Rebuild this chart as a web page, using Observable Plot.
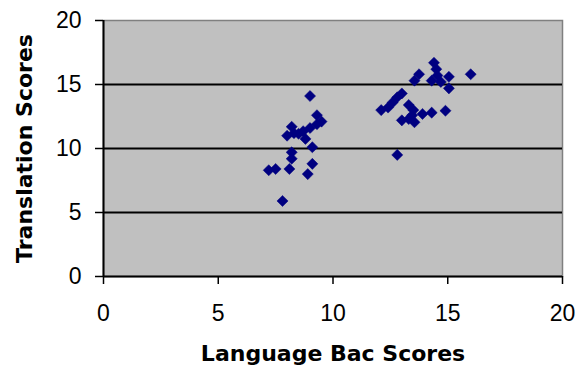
<!DOCTYPE html>
<html>
<head>
<meta charset="utf-8">
<script src="https://cdn.jsdelivr.net/npm/d3@7"></script>
<script src="https://cdn.jsdelivr.net/npm/@observablehq/plot@0.6"></script>
<style>
  html, body { margin: 0; padding: 0; background: #fff; }
</style>
</head>
<body>
<div id="chart"></div>
<script>
// Language Bac scores (x) against Translation scores (y), one entry per student
const langBac = [
  7.8, 7.2, 7.5, 8.1, 8.2, 8.2, 8.9, 9.1, 9.1, 8.0,
  8.2, 8.5, 8.7, 8.8, 9.0, 9.3, 9.5, 9.3, 9.0, 8.3,
  12.8, 12.1, 12.4, 12.6, 12.8, 13.0, 13.3, 13.5, 13.0, 13.3,
  13.55, 13.9, 14.3, 14.9, 13.55, 13.75, 14.3, 14.4, 14.5, 14.55,
  14.7, 15.05, 15.05, 16.0, 13.45
];
const translation = [
  5.9, 8.3, 8.4, 8.4, 9.2, 9.7, 8.0, 8.8, 10.1, 11.0,
  11.7, 11.15, 11.35, 10.75, 11.6, 11.9, 12.1, 12.6, 14.1, 11.2,
  9.5, 13.0, 13.2, 13.6, 14.0, 14.3, 13.4, 13.0, 12.2, 12.3,
  12.05, 12.7, 12.8, 12.95, 15.3, 15.8, 15.3, 16.7, 16.2, 15.7,
  15.2, 15.6, 14.7, 15.8, 12.6
];
const xTicks = [0, 5, 10, 15, 20];
const yTicks = [0, 5, 10, 15, 20];
const gridValues = [5, 10, 15];

const points = langBac.map((x, i) => ({x, y: translation[i]}));

const titleFont = "'DejaVu Sans', 'Liberation Sans', sans-serif";

const chart = Plot.plot({
  width: 575,
  height: 378,
  marginLeft: 103,
  marginRight: 13,
  marginTop: 20,
  marginBottom: 102,
  style: {
    fontFamily: "'Liberation Sans', Arial, sans-serif",
    fontSize: "23px",
    background: "#fff",
    color: "#000",
    overflow: "visible"
  },
  x: {domain: [0, 20]},
  y: {domain: [0, 20]},
  marks: [
    Plot.frame({fill: "#c0c0c0", stroke: "#808080", strokeWidth: 1.5}),
    Plot.ruleY(gridValues, {stroke: "#000", strokeWidth: 2}),
    Plot.ruleX([0], {stroke: "#000", strokeWidth: 2}),
    Plot.ruleY([0], {stroke: "#000", strokeWidth: 2}),
    Plot.dot(points, {
      x: "x", y: "y",
      symbol: "diamond2",
      r: 5,
      fill: "#000080",
      stroke: "#000080",
      strokeWidth: 0.5
    }),
    Plot.axisX({ticks: xTicks, tickSize: 8, tickPadding: 20, label: null, strokeWidth: 1.5}),
    Plot.axisY({ticks: yTicks, tickSize: 8, tickPadding: 14, label: null, strokeWidth: 1.5}),
    Plot.text(["Language Bac Scores"], {
      frameAnchor: "bottom",
      textAnchor: "middle",
      dy: 84,
      fontSize: 22,
      fontWeight: "bold",
      fontFamily: titleFont,
      fill: "#000"
    }),
    Plot.text(["Translation Scores"], {
      frameAnchor: "left",
      textAnchor: "middle",
      dx: -79,
      rotate: -90,
      fontSize: 22,
      fontWeight: "bold",
      fontFamily: titleFont,
      fill: "#000"
    })
  ]
});

document.getElementById("chart").append(chart);
</script>
</body>
</html>
